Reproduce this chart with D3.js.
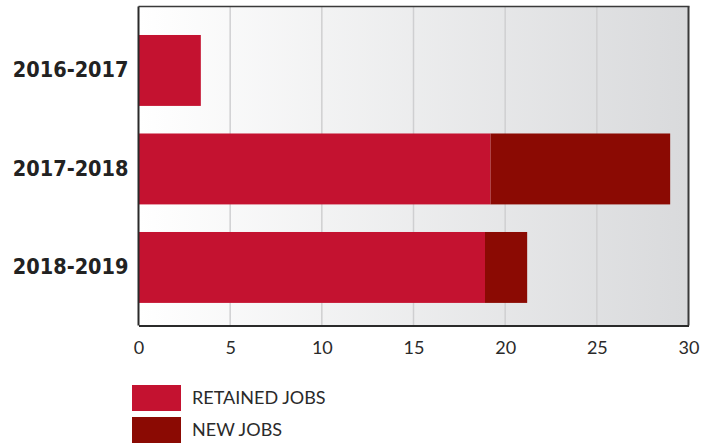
<!DOCTYPE html>
<html><head><meta charset="utf-8">
<script src="https://cdn.jsdelivr.net/npm/d3@7"></script>
<style>
html,body{margin:0;padding:0;background:#fff;}
svg{display:block;}
</style></head>
<body>
<script>
const categories = ["2016-2017", "2017-2018", "2018-2019"];
const retainedJobs = [3.4, 19.2, 18.9];
const newJobs = [0, 9.8, 2.3];
const seriesNames = ["RETAINED JOBS", "NEW JOBS"];
const xTicks = [0, 5, 10, 15, 20, 25, 30];
const colors = ["#c41230", "#8b0a03"];

(function () {
const W = 717, H = 443;
const svg = d3.select("body").append("svg").attr("width", W).attr("height", H);

const pL = 138.5, pR = 688.5, pT = 6.5, pB = 325.5;
const x = d3.scaleLinear().domain([0, 30]).range([pL, pR]);
const y = d3.scaleBand().domain(categories).range([21.2, 316.7]).paddingInner(0.28).paddingOuter(0.14);

const defs = svg.append("defs");
const grad = defs.append("linearGradient").attr("id", "bg").attr("x1", "0").attr("x2", "1").attr("y1", "0").attr("y2", "0");
grad.append("stop").attr("offset", "0").attr("stop-color", "#ffffff");
grad.append("stop").attr("offset", "1").attr("stop-color", "#d9dadc");

svg.append("rect").attr("x", pL).attr("y", pT).attr("width", pR - pL).attr("height", pB - pT).attr("fill", "url(#bg)");

// grid
svg.append("g").selectAll("line").data(xTicks.filter(d => d > 0 && d < 30)).join("line")
  .attr("x1", d => x(d)).attr("x2", d => x(d)).attr("y1", pT).attr("y2", pB)
  .attr("stroke", "#cfcfd1").attr("stroke-width", 1.5);

// stacked data
const rows = categories.map((c, i) => ({cat: c, retained: retainedJobs[i], new: newJobs[i]}));
const stack = d3.stack().keys(["retained", "new"])(rows);

svg.append("g").selectAll("g").data(stack).join("g").attr("fill", (d, i) => colors[i])
  .selectAll("rect").data(d => d).join("rect")
  .attr("x", d => x(d[0])).attr("width", d => Math.max(0, x(d[1]) - x(d[0])))
  .attr("y", d => y(d.data.cat)).attr("height", y.bandwidth());

// frame
svg.append("line").attr("x1", pL).attr("x2", pR + 1).attr("y1", pT).attr("y2", pT).attr("stroke", "#3a3a3a").attr("stroke-width", 1.5);
svg.append("line").attr("x1", pR).attr("x2", pR).attr("y1", pT).attr("y2", pB).attr("stroke", "#3a3a3a").attr("stroke-width", 2);

// x axis
const xAxis = svg.append("g").attr("transform", `translate(0,${pB})`)
  .call(d3.axisBottom(x).tickValues(xTicks).tickSize(0).tickPadding(16));
xAxis.select(".domain").attr("stroke", "#2a2a2a").attr("stroke-width", 2);
xAxis.selectAll("text").attr("font-family", "Lato, sans-serif").attr("font-size", 18).attr("fill", "#2a2a2a");

// y axis
const yAxis = svg.append("g").attr("transform", `translate(${pL},0)`)
  .call(d3.axisLeft(y).tickSize(0).tickPadding(10));
yAxis.select(".domain").attr("stroke", "#2a2a2a").attr("stroke-width", 2)
  .attr("d", `M0,${pT}V${pB}`);
yAxis.selectAll("text").attr("font-family", "'DejaVu Sans Condensed', 'DejaVu Sans', sans-serif")
  .attr("font-weight", "bold").attr("font-size", 21.5).attr("fill", "#222");

// legend
const lg = svg.append("g").selectAll("g").data(seriesNames).join("g")
  .attr("transform", (d, i) => `translate(132,${385 + i * 32})`);
lg.append("rect").attr("width", 49).attr("height", 26).attr("fill", (d, i) => colors[i]);
lg.append("text").attr("x", 60).attr("y", 13).attr("dy", "0.35em")
  .attr("font-family", "Lato, sans-serif").attr("font-size", 18).attr("fill", "#2a2a2a")
  .text(d => d);
})();
</script>
</body></html>
